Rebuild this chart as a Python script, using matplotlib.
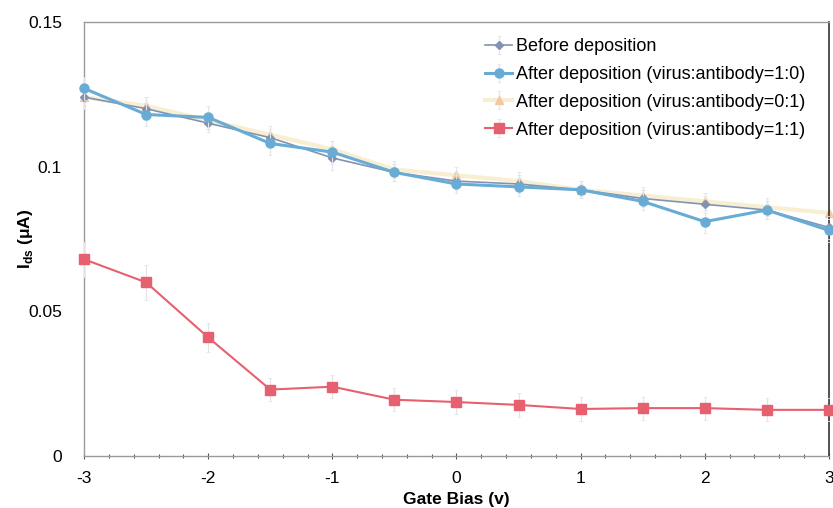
import matplotlib.pyplot as plt
import numpy as np
from matplotlib.ticker import MultipleLocator

plt.rcParams['font.family'] = ['Liberation Sans', 'DejaVu Sans']

# Gate bias sweep
gate_bias = [-3, -2.5, -2, -1.5, -1, -0.5, 0, 0.5, 1, 1.5, 2, 2.5, 3]

# Ids values (uA)
ids_before = [0.124, 0.120, 0.115, 0.110, 0.103, 0.098, 0.095, 0.094, 0.092, 0.089, 0.087, 0.085, 0.079]
ids_10 = [0.127, 0.118, 0.117, 0.108, 0.105, 0.098, 0.094, 0.093, 0.092, 0.088, 0.081, 0.085, 0.078]
ids_01 = [0.124, 0.121, 0.116, 0.111, 0.106, 0.099, 0.097, 0.095, 0.092, 0.090, 0.088, 0.086, 0.084]
ids_11 = [0.068, 0.060, 0.041, 0.023, 0.024, 0.0195, 0.0187, 0.0177, 0.0163, 0.0166, 0.0166, 0.0160, 0.0160]

# rough error bar sizes
err_before = [0.004, 0.004, 0.003, 0.003, 0.004, 0.003, 0.003, 0.003, 0.002, 0.003, 0.003, 0.003, 0.004]
err_10 = [0.004, 0.004, 0.004, 0.004, 0.004, 0.003, 0.003, 0.003, 0.003, 0.003, 0.004, 0.003, 0.004]
err_01 = [0.003, 0.003, 0.003, 0.003, 0.003, 0.003, 0.003, 0.003, 0.003, 0.003, 0.003, 0.003, 0.003]
err_11 = [0.006, 0.006, 0.005, 0.004, 0.004, 0.004, 0.004, 0.004, 0.004, 0.004, 0.004, 0.004, 0.004]

labels = ['Before deposition',
          'After deposition (virus:antibody=1:0)',
          'After deposition (virus:antibody=0:1)',
          'After deposition (virus:antibody=1:1)']

fig = plt.figure(figsize=(8.33, 5.08), dpi=100)
ax = fig.add_axes([0.101, 0.102, 0.894, 0.855])

err_kw = dict(ecolor='#e4e4e4', elinewidth=0.8, capsize=1.5, capthick=0.6)

series = [
    (ids_01, err_01, dict(color='#f8eed2', lw=3, marker='^', ms=6, mfc='#f3c8a2', mec='#f3c8a2'), labels[2], 2),
    (ids_before, err_before, dict(color='#8093b3', lw=1.2, marker='D', ms=4, mfc='#8093b3', mec='#8093b3'), labels[0], 3),
    (ids_10, err_10, dict(color='#68acd6', lw=2.2, marker='o', ms=6.5, mfc='#68acd6', mec='#68acd6'), labels[1], 4),
    (ids_11, err_11, dict(color='#e7606f', lw=1.5, marker='s', ms=7, mfc='#e7606f', mec='#e7606f'), labels[3], 5),
]
for vals, errs, style, lab, z in series:
    cont = ax.errorbar(gate_bias, vals, yerr=errs, label=lab, zorder=z, **style, **err_kw)
    cont[0].set_clip_on(False)

ax.set_xlim(-3, 3)
ax.set_ylim(0, 0.15)
ax.set_xticks([-3, -2, -1, 0, 1, 2, 3])
ax.set_xticklabels(['-3', '-2', '-1', '0', '1', '2', '3'])
ax.set_yticks([0, 0.05, 0.1, 0.15])
ax.set_yticklabels(['0', '0.05', '0.1', '0.15'])
ax.xaxis.set_minor_locator(MultipleLocator(0.2))
ax.tick_params(axis='x', which='both', direction='inout', length=4, width=0.8,
               colors='#555555', labelcolor='black', labelsize=12.5, pad=9)
ax.tick_params(axis='x', which='minor', length=3)
ax.tick_params(axis='y', length=0, labelsize=12.5, pad=16)

for side in ['left', 'top', 'bottom']:
    ax.spines[side].set_color('#9a9a9a')
    ax.spines[side].set_linewidth(1.0)
ax.spines['right'].set_color('#333333')
ax.spines['right'].set_linewidth(1.2)

ax.set_xlabel('Gate Bias (v)', fontsize=12.5, fontweight='bold', labelpad=4)
ax.set_ylabel(r'I$_{\mathregular{ds}}$ ($\mathregular{\mu}$A)', fontsize=12.5, fontweight='bold')
ax.yaxis.set_label_coords(-0.066, 0.5)

handles, labs = ax.get_legend_handles_labels()
order = [labs.index(l) for l in labels]
ax.legend([handles[i] for i in order], [labs[i] for i in order],
          loc='upper right', bbox_to_anchor=(0.99, 1.0), frameon=False,
          fontsize=13, handlelength=1.5, handletextpad=0.2, labelspacing=0.6)

fig.savefig('out.png', dpi=100)
